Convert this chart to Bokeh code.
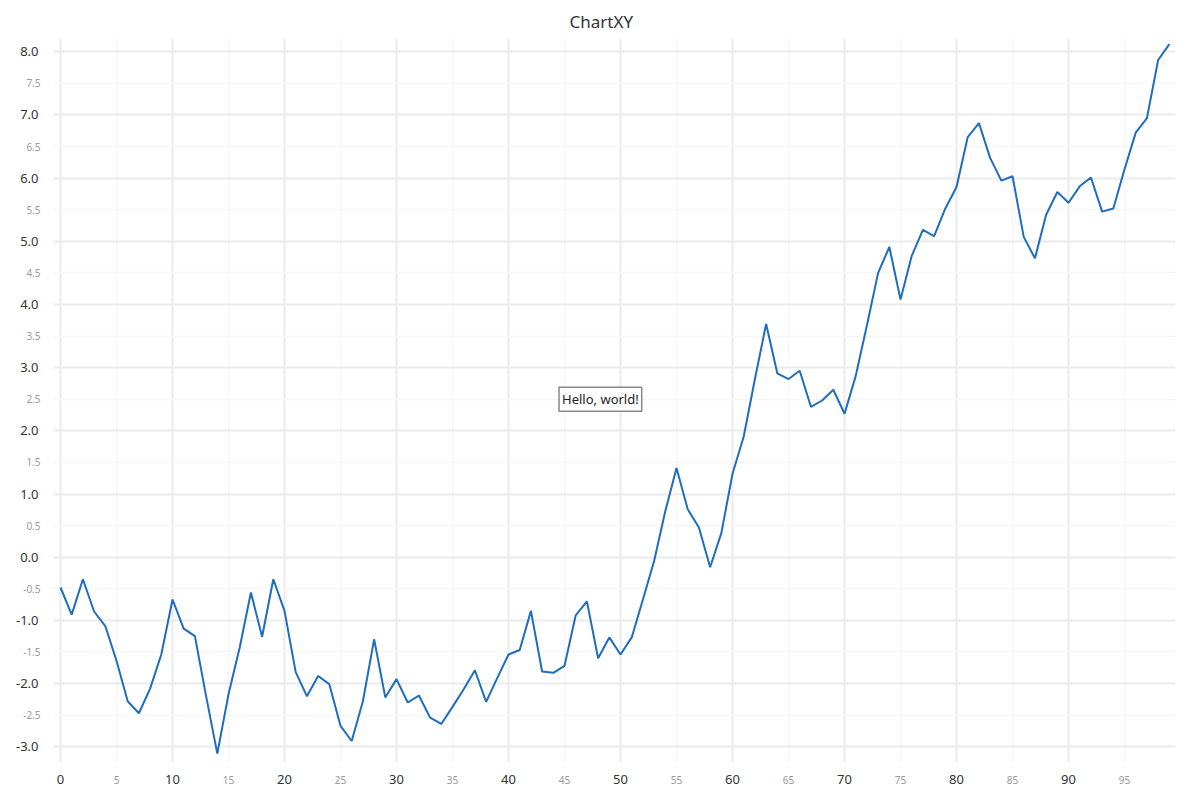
from bokeh.plotting import figure
from bokeh.models import Range1d, FixedTicker, NumeralTickFormatter, Label, LinearAxis
from bokeh.embed import file_html
from bokeh.resources import INLINE

# ---- data ----
x_values = list(range(100))
y_values = [
    -0.48, -0.91, -0.35, -0.86, -1.09, -1.64, -2.28, -2.47, -2.08, -1.54,
    -0.67, -1.13, -1.25, -2.20, -3.11, -2.17, -1.43, -0.56, -1.26, -0.35,
    -0.85, -1.82, -2.20, -1.88, -2.01, -2.67, -2.91, -2.28, -1.30, -2.22,
    -1.93, -2.30, -2.19, -2.54, -2.64, -2.37, -2.09, -1.79, -2.29, -1.91,
    -1.54, -1.47, -0.85, -1.81, -1.83, -1.72, -0.92, -0.70, -1.60, -1.27,
    -1.54, -1.27, -0.67, -0.06, 0.73, 1.41, 0.76, 0.47, -0.16, 0.38,
    1.32, 1.91, 2.82, 3.69, 2.91, 2.82, 2.95, 2.38, 2.48, 2.65,
    2.27, 2.87, 3.67, 4.50, 4.91, 4.08, 4.77, 5.18, 5.08, 5.52,
    5.86, 6.65, 6.87, 6.32, 5.96, 6.03, 5.07, 4.73, 5.42, 5.78,
    5.61, 5.87, 6.01, 5.47, 5.52, 6.14, 6.72, 6.95, 7.87, 8.12,
]
x_major_ticks = [0, 10, 20, 30, 40, 50, 60, 70, 80, 90]
x_minor_ticks = [5, 15, 25, 35, 45, 55, 65, 75, 85, 95]
y_major_ticks = [-3, -2, -1, 0, 1, 2, 3, 4, 5, 6, 7, 8]
y_minor_ticks = [-2.5, -1.5, -0.5, 0.5, 1.5, 2.5, 3.5, 4.5, 5.5, 6.5, 7.5]
note_text = "Hello, world!"
note_x, note_y = 48.2, 2.5

FONT = "Noto Sans"
X0, X1 = -0.625, 99.55
Y0, Y1 = -3.25, 8.21

p = figure(width=1200, height=800, output_backend="svg", toolbar_location=None,
           x_range=Range1d(X0, X1), y_range=Range1d(Y0, Y1),
           min_border_left=53, min_border_right=25, min_border_top=38, min_border_bottom=38,
           title="ChartXY")
p.title.align = "left"
p.title.offset = 516
p.title.standoff = 12
p.title.text_font = FONT
p.title.text_font_size = "17px"
p.title.text_font_style = "normal"
p.title.text_color = "#333333"
p.outline_line_color = None
p.background_fill_color = "white"
p.border_fill_color = "white"

# inner axes (nearest the frame) carry the small grey half-step labels
x_minor_axis = p.xaxis[0]
y_minor_axis = p.yaxis[0]
x_minor_axis.ticker = FixedTicker(ticks=x_minor_ticks)
y_minor_axis.ticker = FixedTicker(ticks=y_minor_ticks)
y_minor_axis.formatter = NumeralTickFormatter(format="0.0")
# outer axes carry the main labels, pulled back onto the same line
x_major_axis = LinearAxis(ticker=FixedTicker(ticks=x_major_ticks))
y_major_axis = LinearAxis(ticker=FixedTicker(ticks=y_major_ticks), formatter=NumeralTickFormatter(format="0.0"))
p.add_layout(x_major_axis, "below")
p.add_layout(y_major_axis, "left")

for ax in (x_minor_axis, y_minor_axis, x_major_axis, y_major_axis):
    ax.axis_line_color = None
    ax.major_tick_line_color = None
    ax.minor_tick_line_color = None
    ax.major_tick_out = 0
    ax.major_tick_in = 0
    ax.minor_tick_out = 0
    ax.minor_tick_in = 0
    ax.major_label_text_font = FONT
for ax in (x_major_axis, y_major_axis):
    ax.major_label_text_font_size = "13px"
    ax.major_label_text_color = "#333333"
for ax in (x_minor_axis, y_minor_axis):
    ax.major_label_text_font_size = "10px"
    ax.major_label_text_color = "#9a9a9a"
x_minor_axis.major_label_standoff = 13
x_major_axis.major_label_standoff = -12
y_minor_axis.major_label_standoff = 13
y_major_axis.major_label_standoff = -18

p.xgrid.ticker = FixedTicker(ticks=x_major_ticks, minor_ticks=x_minor_ticks)
p.ygrid.ticker = FixedTicker(ticks=y_major_ticks, minor_ticks=y_minor_ticks)
for g in (p.xgrid, p.ygrid):
    g.grid_line_color = "#ebebeb"
    g.grid_line_width = 2
    g.minor_grid_line_color = "#f6f6f6"
    g.minor_grid_line_width = 1.5

p.line(x_values, y_values, line_color="#1f6dbf", line_width=2)

p.add_layout(Label(x=note_x, y=note_y, text=note_text, text_align="center", text_baseline="middle",
                   text_font=FONT, text_font_size="13px", text_color="#222222",
                   background_fill_color="white", border_line_color="#888888", border_line_width=1.5,
                   padding=3))

open("out.html", "w").write(file_html(p, INLINE))
